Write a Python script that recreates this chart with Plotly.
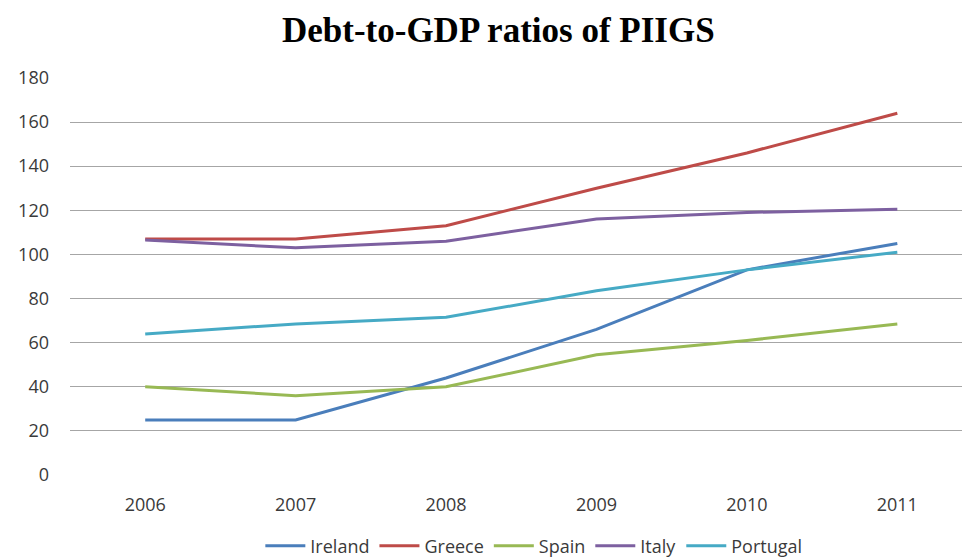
import plotly.graph_objects as go

years = ["2006", "2007", "2008", "2009", "2010", "2011"]
ireland = [25, 25, 44, 66, 93, 105]
greece = [107, 107, 113, 130, 146, 164]
spain = [40, 36, 40, 54.5, 61, 68.5]
italy = [106.5, 103, 106, 116, 119, 120.5]
portugal = [64, 68.5, 71.5, 83.5, 93, 101]
y_ticks = [0, 20, 40, 60, 80, 100, 120, 140, 160, 180]

series = [
    ("Ireland", ireland, "#4a7ebb"),
    ("Greece", greece, "#be4b48"),
    ("Spain", spain, "#98b954"),
    ("Italy", italy, "#7d60a0"),
    ("Portugal", portugal, "#46aac5"),
]

fig = go.Figure()
for name, vals, color in series:
    fig.add_trace(go.Scatter(x=list(range(len(years))), y=vals, name=name, mode="lines",
                             line=dict(color=color, width=3)))

fig.update_layout(
    width=962, height=560,
    margin=dict(l=70, r=0, t=77, b=84, autoexpand=False),
    paper_bgcolor="white", plot_bgcolor="white",
    title=dict(text="<b>Debt-to-GDP ratios of PIIGS</b>", x=0.518, xanchor="center",
               y=1 - 30 / 560, yanchor="middle", yref="container",
               font=dict(family="Liberation Serif", size=35, color="black")),
    font=dict(family="Open Sans", size=18, color="#3a3a3a"),
    xaxis=dict(range=[-0.5, 5.43], tickmode="array", tickvals=list(range(len(years))),
               ticktext=years, showgrid=False, zeroline=False, showline=False,
               ticks="", ticklabelstandoff=16, tickfont=dict(size=18)),
    yaxis=dict(range=[-0.4, 180.4], tickmode="array", tickvals=y_ticks, showgrid=True,
               gridcolor="#a6a6a6", gridwidth=1.3, zeroline=False, showline=False,
               ticks="", ticklabelstandoff=20, tickfont=dict(size=18)),
    legend=dict(orientation="h", x=0.52, xanchor="center", y=1 - 546 / 560,
                yanchor="middle", yref="container",
                font=dict(size=18, color="#3a3a3a"), itemwidth=40, tracegroupgap=0),
    showlegend=True,
)

fig.write_html("out.html")
